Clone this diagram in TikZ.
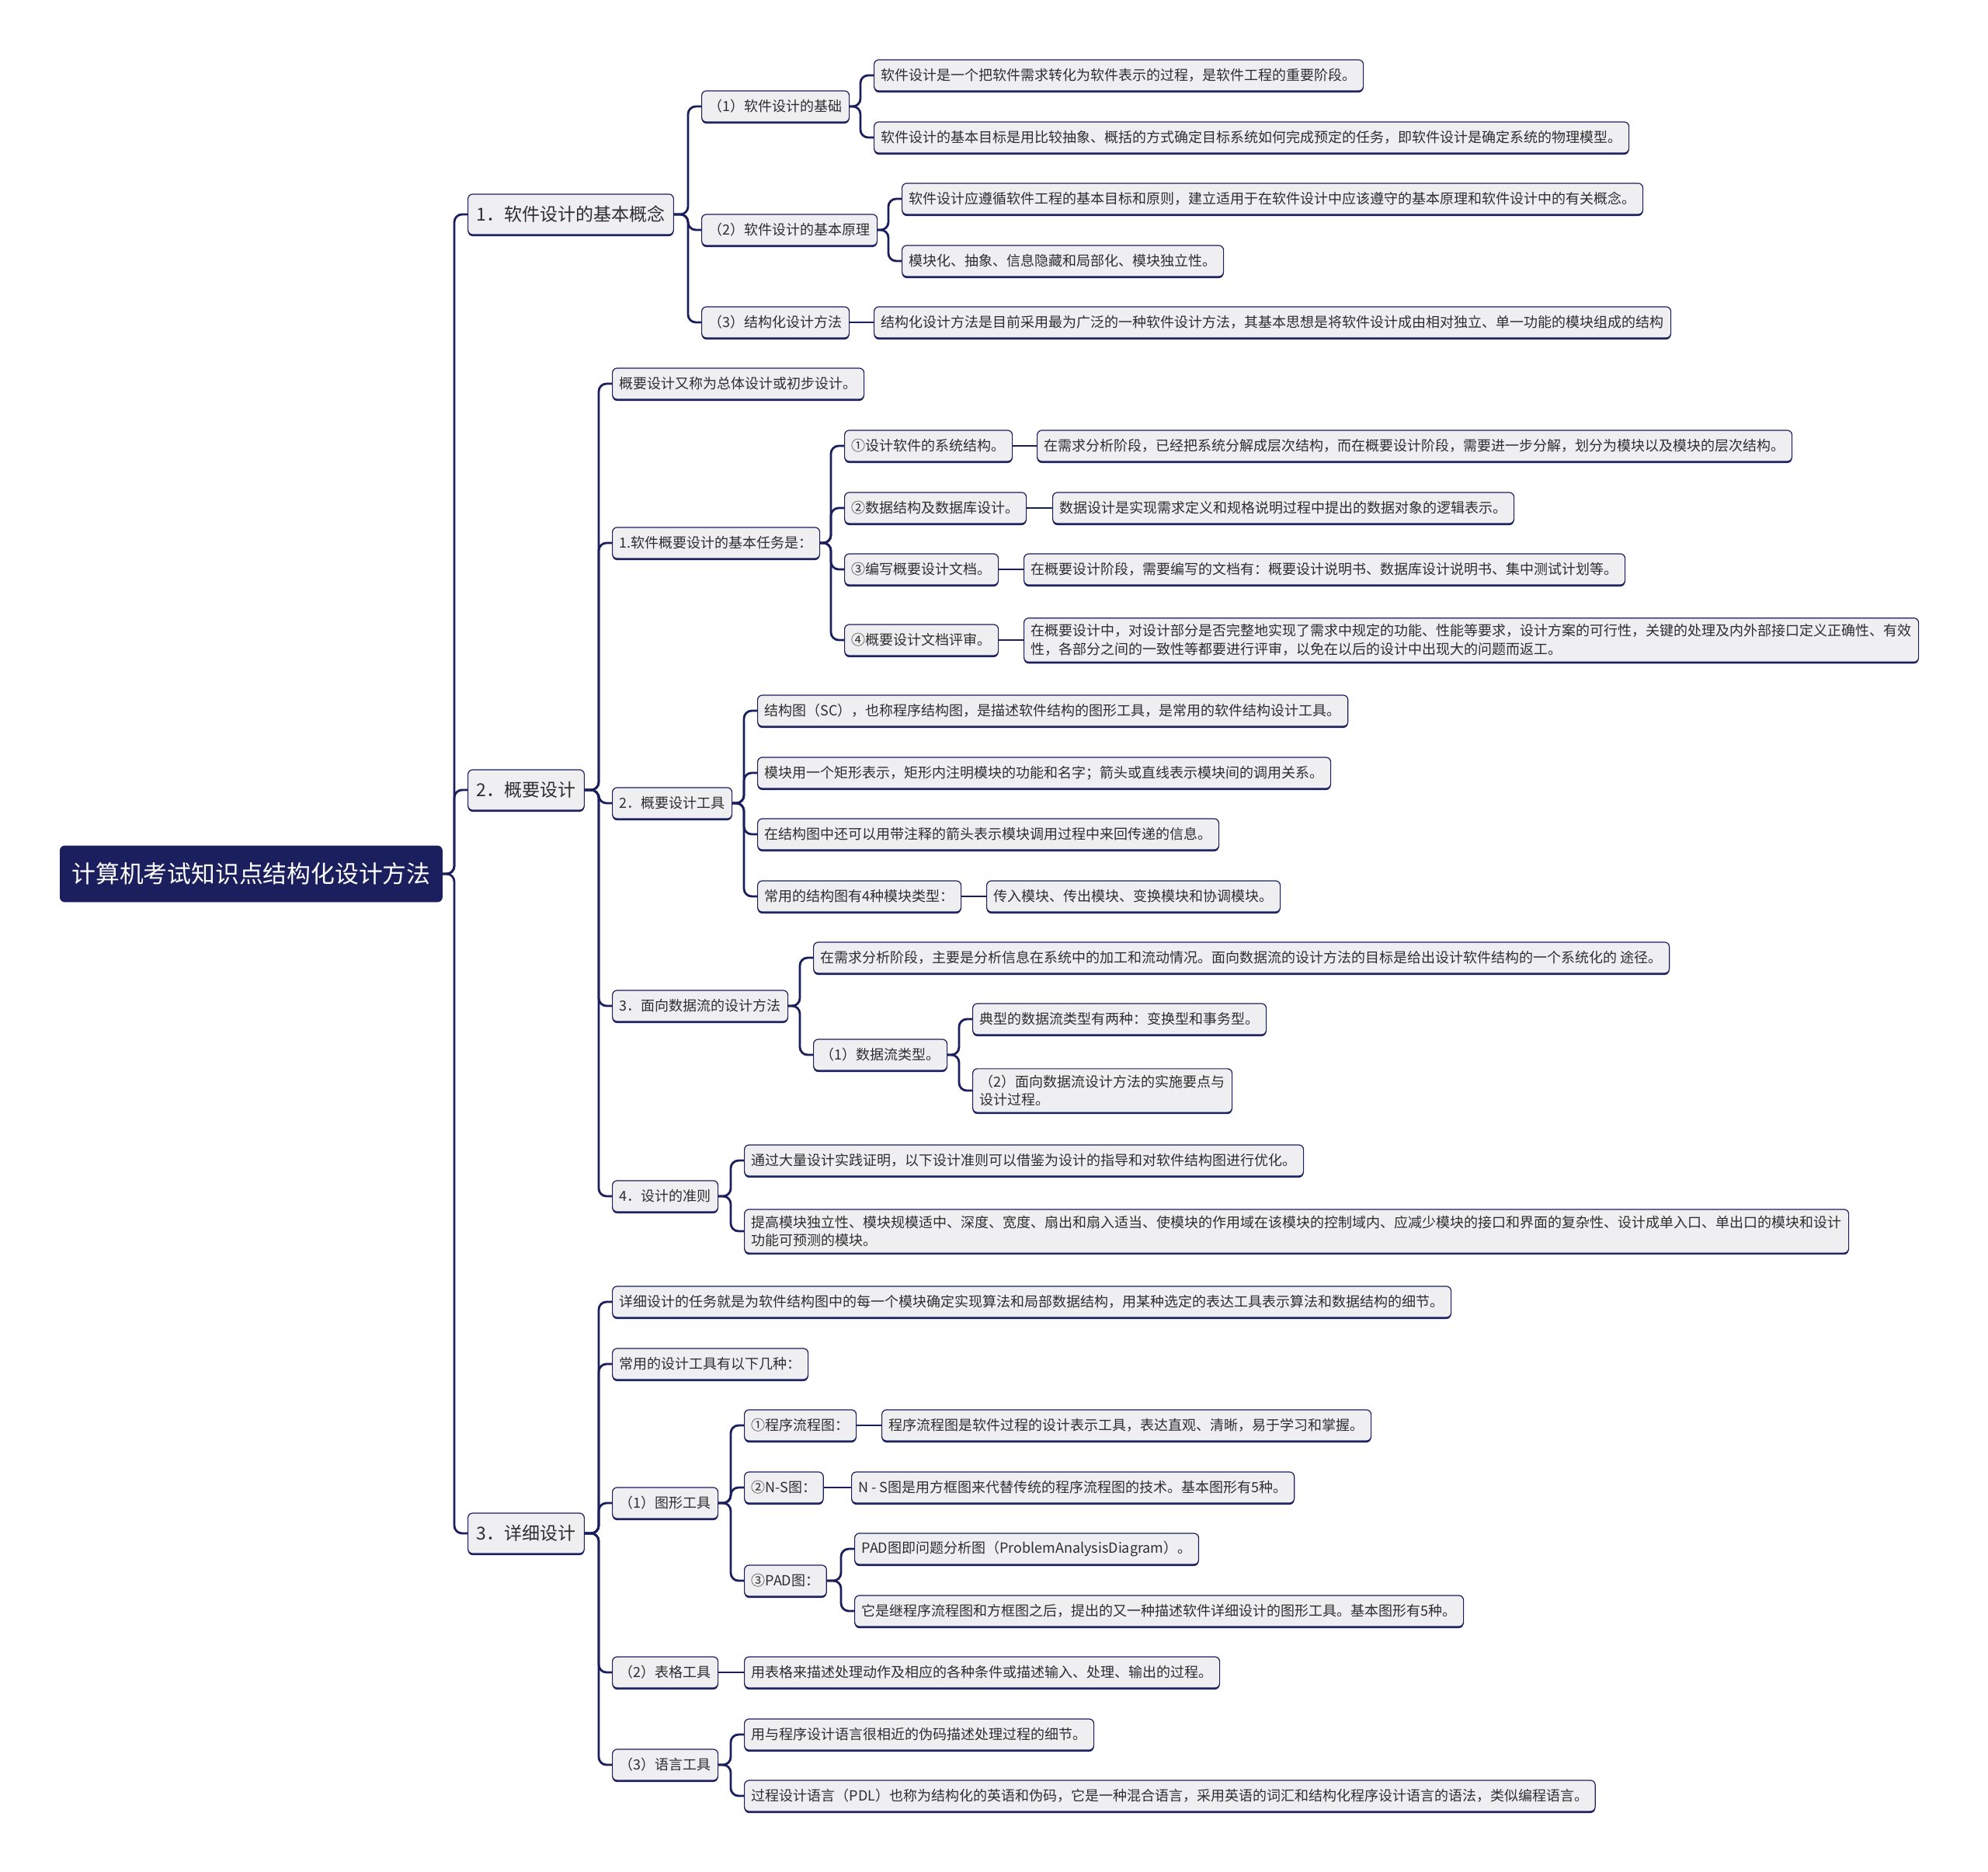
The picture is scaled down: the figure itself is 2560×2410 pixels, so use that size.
\documentclass[tikz,border=0pt]{standalone}
\usepackage{fontspec}
\setmainfont{Noto Sans CJK SC}
\usetikzlibrary{shadows,backgrounds}
\definecolor{navy}{HTML}{1B1F5E}
\definecolor{boxgray}{HTML}{EFEFF1}
\definecolor{txtgray}{HTML}{2E2E2E}

\begin{document}
\begin{tikzpicture}[
  x=0.5pt, y=-0.5pt,
  every node/.style={anchor=west, align=left},
  root/.style={draw=navy, fill=navy, rounded corners=3pt, text=white,
               font=\fontsize{15.4}{18}\selectfont, inner xsep=7.5pt,
               minimum height=36pt},
  lvl/.style={draw=navy, fill=boxgray, rounded corners=3pt, text=txtgray,
              line width=0.6pt, font=\fontsize{11.5}{14}\selectfont,
              inner xsep=5.5pt, minimum height=26pt,
              drop shadow={shadow xshift=0pt, shadow yshift=-1pt,
                           fill=navy, opacity=1}},
  leaf/.style={lvl, font=\fontsize{9}{11.7}\selectfont, inner xsep=4.5pt,
               inner ysep=4pt, minimum height=20pt},
  link/.style={draw=navy, line width=1.4pt, rounded corners=5pt},
]
\useasboundingbox (0,0) rectangle (2560,2410);

% ---------- root and the three chapters ----------
\node[root] (root) at (77,1125) {计算机考试知识点结构化设计方法};
\node[lvl] (n1) at (602,276) {1．软件设计的基本概念};
\node[lvl] (n2) at (602,1017) {2．概要设计};
\node[lvl] (n3) at (602,1974) {3．详细设计};

% ---------- 1. basic concepts ----------
\node[leaf] (n1a) at (903,137) {（1）软件设计的基础};
\node[leaf] (n1b) at (903,296) {（2）软件设计的基本原理};
\node[leaf] (n1c) at (903,415) {（3）结构化设计方法};
\node[leaf] (n1a1) at (1125,97)
  {软件设计是一个把软件需求转化为软件表示的过程，是软件工程的重要阶段。};
\node[leaf] (n1a2) at (1125,177)
  {软件设计的基本目标是用比较抽象、概括的方式确定目标系统如何完成预定的任务，即软件设计是确定系统的物理模型。};
\node[leaf] (n1b1) at (1161,256)
  {软件设计应遵循软件工程的基本目标和原则，建立适用于在软件设计中应该遵守的基本原理和软件设计中的有关概念。};
\node[leaf] (n1b2) at (1161,336) {模块化、抽象、信息隐藏和局部化、模块独立性。};
\node[leaf] (n1c1) at (1125,415)
  {结构化设计方法是目前采用最为广泛的一种软件设计方法，其基本思想是将软件设计成由相对独立、单一功能的模块组成的结构};

% ---------- 2. outline design ----------
\node[leaf] (n2a) at (788,494) {概要设计又称为总体设计或初步设计。};
\node[leaf] (n2b) at (788,699) {1.软件概要设计的基本任务是：};
\node[leaf] (n2c) at (788,1034) {2．概要设计工具};
\node[leaf] (n2d) at (788,1295) {3．面向数据流的设计方法};
\node[leaf] (n2e) at (788,1540) {4．设计的准则};

\node[leaf] (t1) at (1087,574) {①设计软件的系统结构。};
\node[leaf] (t2) at (1087,654) {②数据结构及数据库设计。};
\node[leaf] (t3) at (1087,733) {③编写概要设计文档。};
\node[leaf] (t4) at (1087,824) {④概要设计文档评审。};
\node[leaf] (t1x) at (1335,574)
  {在需求分析阶段，已经把系统分解成层次结构，而在概要设计阶段，需要进一步分解，划分为模块以及模块的层次结构。};
\node[leaf] (t2x) at (1355,654)
  {数据设计是实现需求定义和规格说明过程中提出的数据对象的逻辑表示。};
\node[leaf] (t3x) at (1318,733)
  {在概要设计阶段，需要编写的文档有：概要设计说明书、数据库设计说明书、集中测试计划等。};
\node[leaf] (t4x) at (1318,824)
  {在概要设计中，对设计部分是否完整地实现了需求中规定的功能、性能等要求，设计方案的可行性，关键的处理及内外部接口定义正确性、有效\\
   性，各部分之间的一致性等都要进行评审，以免在以后的设计中出现大的问题而返工。};

\node[leaf] (s1) at (975,915)
  {结构图（SC），也称程序结构图，是描述软件结构的图形工具，是常用的软件结构设计工具。};
\node[leaf] (s2) at (975,995)
  {模块用一个矩形表示，矩形内注明模块的功能和名字；箭头或直线表示模块间的调用关系。};
\node[leaf] (s3) at (975,1074)
  {在结构图中还可以用带注释的箭头表示模块调用过程中来回传递的信息。};
\node[leaf] (s4) at (975,1154) {常用的结构图有4种模块类型：};
\node[leaf] (s4x) at (1270,1154) {传入模块、传出模块、变换模块和协调模块。};

\node[leaf] (d1) at (1047,1233)
  {在需求分析阶段，主要是分析信息在系统中的加工和流动情况。面向数据流的设计方法的目标是给出设计软件结构的一个系统化的 途径。};
\node[leaf] (d2) at (1047,1358) {（1）数据流类型。};
\node[leaf] (d2a) at (1252,1312) {典型的数据流类型有两种：变换型和事务型。};
\node[leaf] (d2b) at (1252,1404) {（2）面向数据流设计方法的实施要点与\\设计过程。};

\node[leaf] (e1) at (958,1494)
  {通过大量设计实践证明，以下设计准则可以借鉴为设计的指导和对软件结构图进行优化。};
\node[leaf] (e2) at (958,1585)
  {提高模块独立性、模块规模适中、深度、宽度、扇出和扇入适当、使模块的作用域在该模块的控制域内、应减少模块的接口和界面的复杂性、设计成单入口、单出口的模块和设计\\
   功能可预测的模块。};

% ---------- 3. detailed design ----------
\node[leaf] (n3a) at (788,1676)
  {详细设计的任务就是为软件结构图中的每一个模块确定实现算法和局部数据结构，用某种选定的表达工具表示算法和数据结构的细节。};
\node[leaf] (n3b) at (788,1756) {常用的设计工具有以下几种：};
\node[leaf] (n3c) at (788,1935) {（1）图形工具};
\node[leaf] (n3d) at (788,2153) {（2）表格工具};
\node[leaf] (n3e) at (788,2272) {（3）语言工具};

\node[leaf] (g1) at (958,1835) {①程序流程图：};
\node[leaf] (g2) at (958,1915) {②N-S图：};
\node[leaf] (g3) at (958,2035) {③PAD图：};
\node[leaf] (g1x) at (1135,1835)
  {程序流程图是软件过程的设计表示工具，表达直观、清晰，易于学习和掌握。};
\node[leaf] (g2x) at (1096,1915)
  {N - S图是用方框图来代替传统的程序流程图的技术。基本图形有5种。};
\node[leaf] (g3a) at (1100,1994) {PAD图即问题分析图（ProblemAnalysisDiagram）。};
\node[leaf] (g3b) at (1100,2074)
  {它是继程序流程图和方框图之后，提出的又一种描述软件详细设计的图形工具。基本图形有5种。};
\node[leaf] (n3dx) at (958,2153)
  {用表格来描述处理动作及相应的各种条件或描述输入、处理、输出的过程。};
\node[leaf] (l1) at (958,2233) {用与程序设计语言很相近的伪码描述处理过程的细节。};
\node[leaf] (l2) at (958,2312)
  {过程设计语言（PDL）也称为结构化的英语和伪码，它是一种混合语言，采用英语的词汇和结构化程序设计语言的语法，类似编程语言。};

% ---------- branches ----------
\begin{scope}[on background layer]
\foreach \p/\c in {root/n1, root/n2, root/n3,
    n1/n1a, n1/n1b, n1/n1c, n1a/n1a1, n1a/n1a2, n1b/n1b1, n1b/n1b2,
    n2/n2a, n2/n2b, n2/n2c, n2/n2d, n2/n2e,
    n2b/t1, n2b/t2, n2b/t3, n2b/t4,
    n2c/s1, n2c/s2, n2c/s3, n2c/s4,
    n2d/d1, n2d/d2, d2/d2a, d2/d2b, n2e/e1, n2e/e2,
    n3/n3a, n3/n3b, n3/n3c, n3/n3d, n3/n3e,
    n3c/g1, n3c/g2, n3c/g3, g3/g3a, g3/g3b,
    n3e/l1, n3e/l2}
  \draw[link] (\p.east) -| ([xshift=-8.5pt]\c.west) -- (\c.west);
% single children sit level with their parent
\foreach \p/\c in {n1c/n1c1, t1/t1x, t2/t2x, t3/t3x, t4/t4x, s4/s4x,
    g1/g1x, g2/g2x, n3d/n3dx}
  \draw[link] (\p.east) -- (\c.west);
\end{scope}
\end{tikzpicture}
\end{document}
